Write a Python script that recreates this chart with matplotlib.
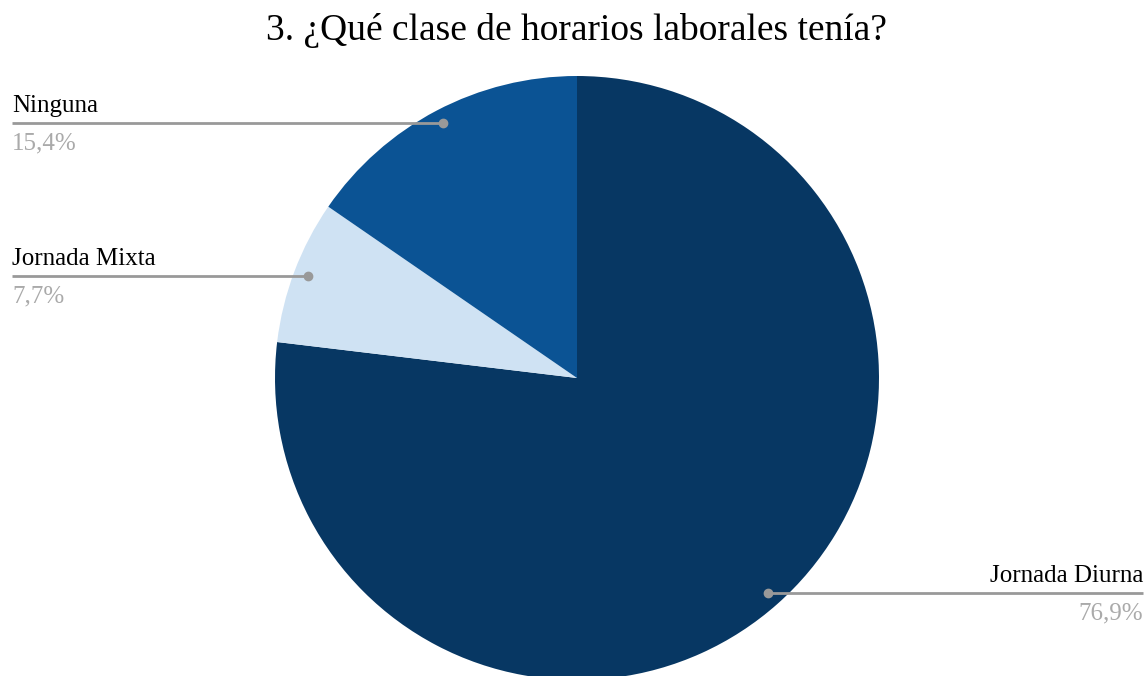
import numpy as np
import matplotlib.pyplot as plt

labels = ['Jornada Diurna', 'Jornada Mixta', 'Ninguna']
values = [76.9, 7.7, 15.4]
colors = ['#073763', '#cfe2f3', '#0b5394']
pct_labels = ['76,9%', '7,7%', '15,4%']

W, H = 1147, 676
fig = plt.figure(figsize=(W / 100, H / 100), dpi=100)
ax = fig.add_axes([0, 0, 1, 1])

plt.rcParams['font.family'] = ['Liberation Serif', 'DejaVu Serif']

cx, cy, R = 577, H - 378, 302
wedges, _ = ax.pie(values, colors=colors, startangle=90, counterclock=False,
                   center=(cx, cy), radius=R, frame=True,
                   wedgeprops=dict(linewidth=0))
ax.set_xlim(0, W)
ax.set_ylim(0, H)
ax.set_aspect('equal')
ax.axis('off')

# leader lines: dot inside the slice, horizontal line out to the page edge
for w, name, pct in zip(wedges, labels, pct_labels):
    mid = np.deg2rad((w.theta1 + w.theta2) / 2)
    px = cx + 0.953 * R * np.cos(mid)
    py = cy + 0.953 * R * np.sin(mid)
    if px > cx:
        x_end, ha = 1143, 'right'
    else:
        x_end, ha = 12, 'left'
    ax.plot([px, x_end], [py, py], color='#999999', lw=2, solid_capstyle='butt')
    ax.plot(px, py, 'o', color='#999999', ms=6)
    ax.text(x_end, py + 11, name, ha=ha, va='baseline', fontsize=18, color='#000000')
    ax.text(x_end, py - 9, pct, ha=ha, va='top', fontsize=18, color='#aaaaaa')

ax.text(577, H - 31, '3. ¿Qué clase de horarios laborales tenía?', ha='center',
        va='center', fontsize=27, color='#000000')

fig.savefig('out.png', dpi=100)
